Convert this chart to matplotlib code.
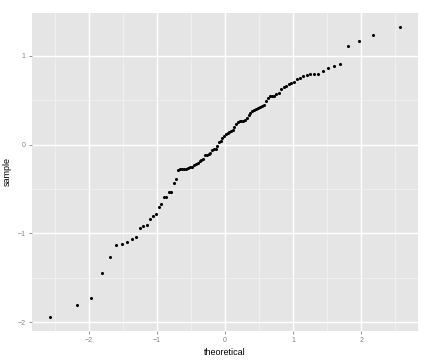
import matplotlib
matplotlib.use('Agg')
import matplotlib.pyplot as plt
import numpy as np

plt.rcParams['font.family'] = ['Liberation Sans', 'DejaVu Sans']

# theoretical normal quantiles for n = 100 (ppoints)
theoretical = [
    -2.5758, -2.1701, -1.9600, -1.8119, -1.6954, -1.5982, -1.5141, -1.4395, -1.3722, -1.3106,
    -1.2536, -1.2004, -1.1503, -1.1031, -1.0581, -1.0152, -0.9741, -0.9346, -0.8965, -0.8596,
    -0.8239, -0.7892, -0.7554, -0.7225, -0.6903, -0.6588, -0.6280, -0.5978, -0.5681, -0.5388,
    -0.5101, -0.4817, -0.4538, -0.4261, -0.3989, -0.3719, -0.3451, -0.3186, -0.2924, -0.2663,
    -0.2404, -0.2147, -0.1891, -0.1637, -0.1383, -0.1130, -0.0878, -0.0627, -0.0376, -0.0125,
    0.0125, 0.0376, 0.0627, 0.0878, 0.1130, 0.1383, 0.1637, 0.1891, 0.2147, 0.2404,
    0.2663, 0.2924, 0.3186, 0.3451, 0.3719, 0.3989, 0.4261, 0.4538, 0.4817, 0.5101,
    0.5388, 0.5681, 0.5978, 0.6280, 0.6588, 0.6903, 0.7225, 0.7554, 0.7892, 0.8239,
    0.8596, 0.8965, 0.9346, 0.9741, 1.0152, 1.0581, 1.1031, 1.1503, 1.2004, 1.2536,
    1.3106, 1.3722, 1.4395, 1.5141, 1.5982, 1.6954, 1.8119, 1.9600, 2.1701, 2.5758,
]

sample = [
    -1.935, -1.808, -1.722, -1.442, -1.266, -1.128, -1.121, -1.091, -1.061, -1.035,
    -0.941, -0.919, -0.908, -0.841, -0.800, -0.781, -0.706, -0.672, -0.594, -0.586,
    -0.534, -0.534, -0.437, -0.392, -0.291, -0.276, -0.276, -0.276, -0.273, -0.261,
    -0.254, -0.250, -0.232, -0.213, -0.209, -0.183, -0.172, -0.157, -0.120, -0.112,
    -0.108, -0.090, -0.060, -0.049, -0.045, -0.011, 0.034, 0.045, 0.075, 0.097,
    0.120, 0.134, 0.146, 0.157, 0.164, 0.202, 0.235, 0.254, 0.265, 0.269,
    0.269, 0.273, 0.299, 0.332, 0.359, 0.374, 0.385, 0.403, 0.418, 0.426,
    0.437, 0.448, 0.493, 0.523, 0.542, 0.549, 0.549, 0.568, 0.583, 0.624,
    0.646, 0.657, 0.680, 0.695, 0.710, 0.736, 0.755, 0.773, 0.784, 0.799,
    0.799, 0.800, 0.826, 0.863, 0.885, 0.911, 1.113, 1.162, 1.233, 1.319,
]

x_ticks = [-2, -1, 0, 1, 2]
y_ticks = [-2, -1, 0, 1]

fig = plt.figure(figsize=(4.32, 3.63), dpi=100)
ax = fig.add_axes([32 / 432, 32 / 363, 386 / 432, 318 / 363])
ax.set_facecolor('#E5E5E5')

# ggplot-style 5% expansion
def expand(v):
    lo, hi = min(v), max(v)
    pad = (hi - lo) * 0.05
    return lo - pad, hi + pad

ax.set_xlim(*expand(theoretical))
ax.set_ylim(*expand(sample))

ax.set_xticks(x_ticks)
ax.set_yticks(y_ticks)
ax.set_xticks([-2.5, -1.5, -0.5, 0.5, 1.5, 2.5], minor=True)
ax.set_yticks([-1.5, -0.5, 0.5], minor=True)
ax.grid(True, which='major', color='white', linewidth=1.0)
ax.grid(True, which='minor', color='#F2F2F2', linewidth=0.6)
ax.set_axisbelow(True)

for s in ax.spines.values():
    s.set_visible(False)

ax.tick_params(which='major', length=2.5, width=0.6, color='#808080',
               labelsize=5, labelcolor='#808080', pad=2)
ax.tick_params(which='minor', length=0)

ax.scatter(theoretical, sample, s=5, color='black', linewidths=0, zorder=3)

ax.set_xlabel('theoretical', fontsize=6.5, labelpad=3)
ax.set_ylabel('sample', fontsize=6.5, labelpad=4)

fig.savefig('out.png', dpi=100, facecolor='white')
